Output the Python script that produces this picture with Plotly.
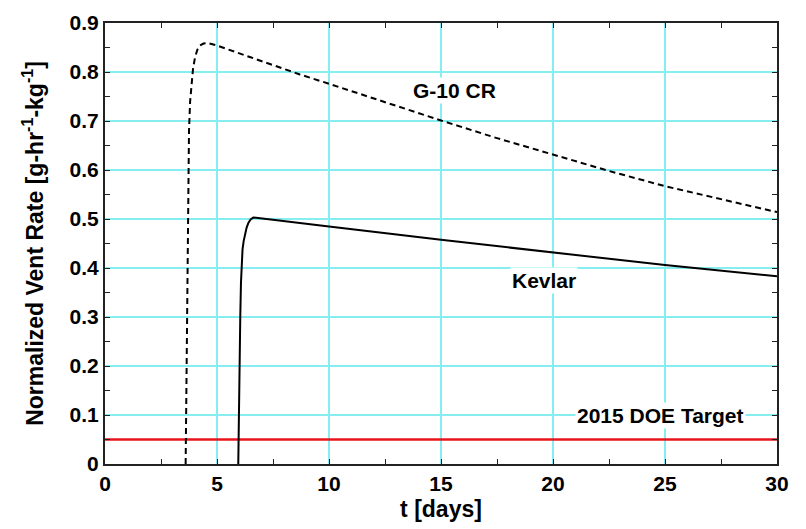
import plotly.graph_objects as go

# Data
g10_t = [3.6, 3.62, 3.65, 3.69, 3.75, 3.8, 3.86, 3.93, 4.02, 4.12, 4.24, 4.4, 4.6, 5.0, 6.5, 8.7, 10, 12.5, 15, 17.5, 20, 22.5, 25, 27.5, 30]
g10_rate = [0, 0.1, 0.3, 0.5, 0.68, 0.74, 0.78, 0.807, 0.83, 0.845, 0.854, 0.858, 0.859, 0.854, 0.83, 0.795, 0.776, 0.738, 0.701, 0.665, 0.631, 0.598, 0.567, 0.54, 0.514]

kevlar_t = [5.95, 5.97, 5.99, 6.04, 6.07, 6.1, 6.14, 6.19, 6.25, 6.32, 6.4, 6.5, 6.62, 8.0, 10, 15, 20, 25, 30]
kevlar_rate = [0, 0.1, 0.2, 0.304, 0.37, 0.41, 0.438, 0.455, 0.468, 0.482, 0.492, 0.499, 0.503, 0.495, 0.4845, 0.4575, 0.432, 0.406, 0.383]

doe_t = [0, 30]
doe_rate = [0.05, 0.05]

labels = ["G-10 CR", "Kevlar", "2015 DOE Target"]
label_t = [15.6, 19.6, 24.8]
label_y = [0.763, 0.375, 0.099]

x_ticks = [0, 5, 10, 15, 20, 25, 30]
y_ticks = [0, 0.1, 0.2, 0.3, 0.4, 0.5, 0.6, 0.7, 0.8, 0.9]

FONT = "Liberation Sans, Arial, sans-serif"

fig = go.Figure()
fig.add_trace(go.Scatter(x=doe_t, y=doe_rate, mode="lines",
                         line=dict(color="#e8141c", width=2.4), showlegend=False))
fig.add_trace(go.Scatter(x=g10_t, y=g10_rate, mode="lines",
                         line=dict(color="black", width=2, dash="6px,4px"), showlegend=False))
fig.add_trace(go.Scatter(x=kevlar_t, y=kevlar_rate, mode="lines",
                         line=dict(color="black", width=2), showlegend=False))

for txt, tx, ty in zip(labels, label_t, label_y):
    fig.add_annotation(x=tx, y=ty, text=txt, showarrow=False,
                       font=dict(family=FONT, size=21, color="black", weight="bold"),
                       bgcolor="white", borderpad=1)

axis_common = dict(
    showline=True, linecolor="#222222", linewidth=2, mirror="allticks",
    ticks="inside", ticklen=5, tickcolor="#222222", tickwidth=1,
    showgrid=True, gridcolor="#86eef0", gridwidth=1.5, zeroline=False,
    automargin=False,
    tickfont=dict(family=FONT, size=21, color="black", weight="bold"),
)

fig.update_xaxes(range=[0, 30], tickmode="array", tickvals=x_ticks,
                 ticktext=[str(v) for v in x_ticks],
                 minor=dict(ticks="inside", ticklen=5, tickcolor="#222222", dtick=2.5, tick0=0, showgrid=False),
                 title=dict(text="t [days]", font=dict(family=FONT, size=23, color="black", weight="bold"), standoff=7),
                 **axis_common)
fig.update_yaxes(range=[0, 0.9], tickmode="array", tickvals=y_ticks,
                 ticktext=["0"] + [f"{v:.1f}" for v in y_ticks[1:]],
                 minor=dict(ticks="inside", ticklen=5, tickcolor="#222222", dtick=0.05, tick0=0, showgrid=False),
                 title=dict(text="Normalized Vent Rate [g-hr<sup>-1</sup>-kg<sup>-1</sup>]",
                            font=dict(family=FONT, size=23, color="black", weight="bold"), standoff=20),
                 **axis_common)

fig.update_layout(width=806, height=529, plot_bgcolor="white", paper_bgcolor="white",
                  margin=dict(l=97, r=37, t=15, b=73))

fig.write_html("out.html")
